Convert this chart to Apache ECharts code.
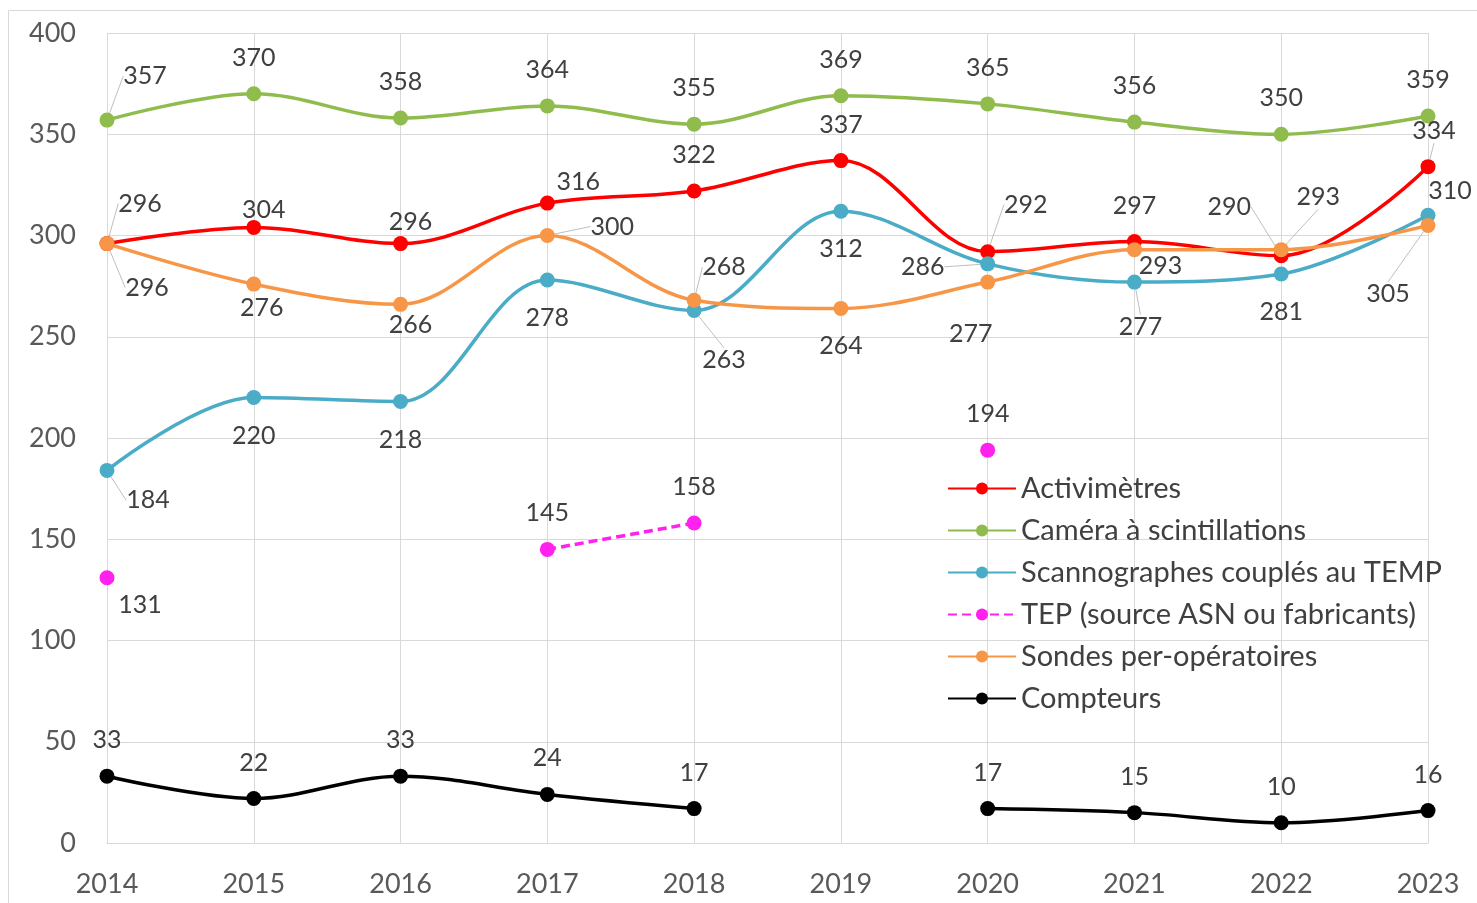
<!DOCTYPE html>
<html>
<head>
<meta charset="utf-8">
<script src="https://cdn.jsdelivr.net/npm/echarts@6/dist/echarts.min.js"></script>
<style>
  html, body { margin: 0; padding: 0; background: #fff; }
  #chart { width: 1477px; height: 903px; }
</style>
</head>
<body>
<div id="chart"></div>
<script>
// années
var years = ['2014', '2015', '2016', '2017', '2018', '2019', '2020', '2021', '2022', '2023'];

var activimetres = [296, 304, 296, 316, 322, 337, 292, 297, 290, 334];
var cameras = [357, 370, 358, 364, 355, 369, 365, 356, 350, 359];
var scannographes = [184, 220, 218, 278, 263, 312, 286, 277, 281, 310];
var tep = [131, null, null, 145, 158, null, 194, null, null, null];
var sondes = [296, 276, 266, 300, 268, 264, 277, 293, 293, 305];
var compteurs = [33, 22, 33, 24, 17, null, 17, 15, 10, 16];

// décalage des étiquettes (px) par rapport au point, et trait de rappel
var TOP = [0, -36];
var BOT = [0, 38];
var offActiv = [[33, -40], [10, -17], [10, -22], [31, -21], TOP, TOP, [38, -47], TOP, [-52, -49], [6, -36]];
var leadActiv = [1, 0, 0, 0, 0, 0, 1, 0, 1, 1];
var offCam = [[38, -44], TOP, TOP, TOP, TOP, TOP, TOP, TOP, TOP, TOP];
var leadCam = [1, 0, 0, 0, 0, 0, 0, 0, 0, 0];
var offScan = [[41, 30], BOT, BOT, BOT, [30, 50], BOT, [-65, 3], [6, 45], BOT, [22, -24]];
var leadScan = [1, 0, 0, 0, 1, 0, 1, 1, 0, 0];
var offTep = [[33, 27], TOP, TOP, TOP, TOP, TOP, TOP, TOP, TOP, TOP];
var leadTep = [0, 0, 0, 0, 0, 0, 0, 0, 0, 0];
var offSondes = [[40, 44], [8, 24], [10, 21], [65, -9], [30, -33], BOT, [-17, 52], [26, 16], [37, -53], [-40, 69]];
var leadSondes = [1, 0, 0, 1, 1, 0, 0, 0, 1, 1];
var offCompt = [TOP, TOP, TOP, TOP, TOP, TOP, TOP, TOP, TOP, TOP];
var leadCompt = [0, 0, 0, 0, 0, 0, 0, 0, 0, 0];

var chart = echarts.init(document.getElementById('chart'));

function makeSeries(name, values, color, offs, leads, dashed) {
  return {
    name: name,
    type: 'line',
    smooth: 0.35,
    connectNulls: false,
    symbol: 'circle',
    symbolSize: 15,
    itemStyle: { color: color },
    lineStyle: { color: color, width: 3.5, type: dashed ? [9, 5] : 'solid' },
    label: {
      show: true,
      position: 'inside',
      color: '#404040',
      fontSize: 25,
      fontFamily: 'Lato'
    },
    labelLine: { show: false, lineStyle: { color: '#bfbfbf', width: 1 } },
    labelLayout: function (p) {
      var o = offs[p.dataIndex];
      return { dx: o[0], dy: o[1] };
    },
    data: values.map(function (v, i) {
      if (v == null) return null;
      return { value: v, labelLine: { show: !!leads[i] } };
    }),
    z: 3
  };
}

var option = {
  animation: false,
  backgroundColor: '#fff',
  graphic: [{
    type: 'rect',
    shape: { x: 8.5, y: 10.5, width: 1480, height: 900 },
    style: { fill: 'none', stroke: '#d9d9d9', lineWidth: 1 },
    silent: true
  }],
  grid: { left: 107, right: 49, top: 33, bottom: 60 },
  legend: {
    orient: 'vertical',
    left: 942,
    top: 469,
    itemWidth: 68,
    itemHeight: 15,
    itemGap: 13,
    textStyle: { color: '#404040', fontSize: 29, fontFamily: 'Lato' },
    data: ['Activimètres', 'Caméra à scintillations', 'Scannographes couplés au TEMP',
      'TEP (source ASN ou fabricants)', 'Sondes per-opératoires', 'Compteurs']
  },
  xAxis: {
    type: 'category',
    data: years,
    boundaryGap: false,
    axisLine: { lineStyle: { color: '#d9d9d9' } },
    axisTick: { show: false },
    axisLabel: { color: '#595959', fontSize: 27, fontFamily: 'Lato', margin: 28 },
    splitLine: { show: true, lineStyle: { color: '#d9d9d9' } }
  },
  yAxis: {
    type: 'value',
    min: 0,
    max: 400,
    interval: 50,
    axisLine: { show: false },
    axisTick: { show: false },
    axisLabel: { color: '#595959', fontSize: 27, fontFamily: 'Lato', margin: 31 },
    splitLine: { lineStyle: { color: '#d9d9d9' } }
  },
  series: [
    makeSeries('Activimètres', activimetres, '#ff0000', offActiv, leadActiv),
    makeSeries('Caméra à scintillations', cameras, '#8fbc4c', offCam, leadCam),
    makeSeries('Scannographes couplés au TEMP', scannographes, '#4aacc6', offScan, leadScan),
    makeSeries('TEP (source ASN ou fabricants)', tep, '#ff22ee', offTep, leadTep, true),
    makeSeries('Sondes per-opératoires', sondes, '#f79646', offSondes, leadSondes),
    makeSeries('Compteurs', compteurs, '#000000', offCompt, leadCompt)
  ]
};

chart.setOption(option);
</script>
</body>
</html>
